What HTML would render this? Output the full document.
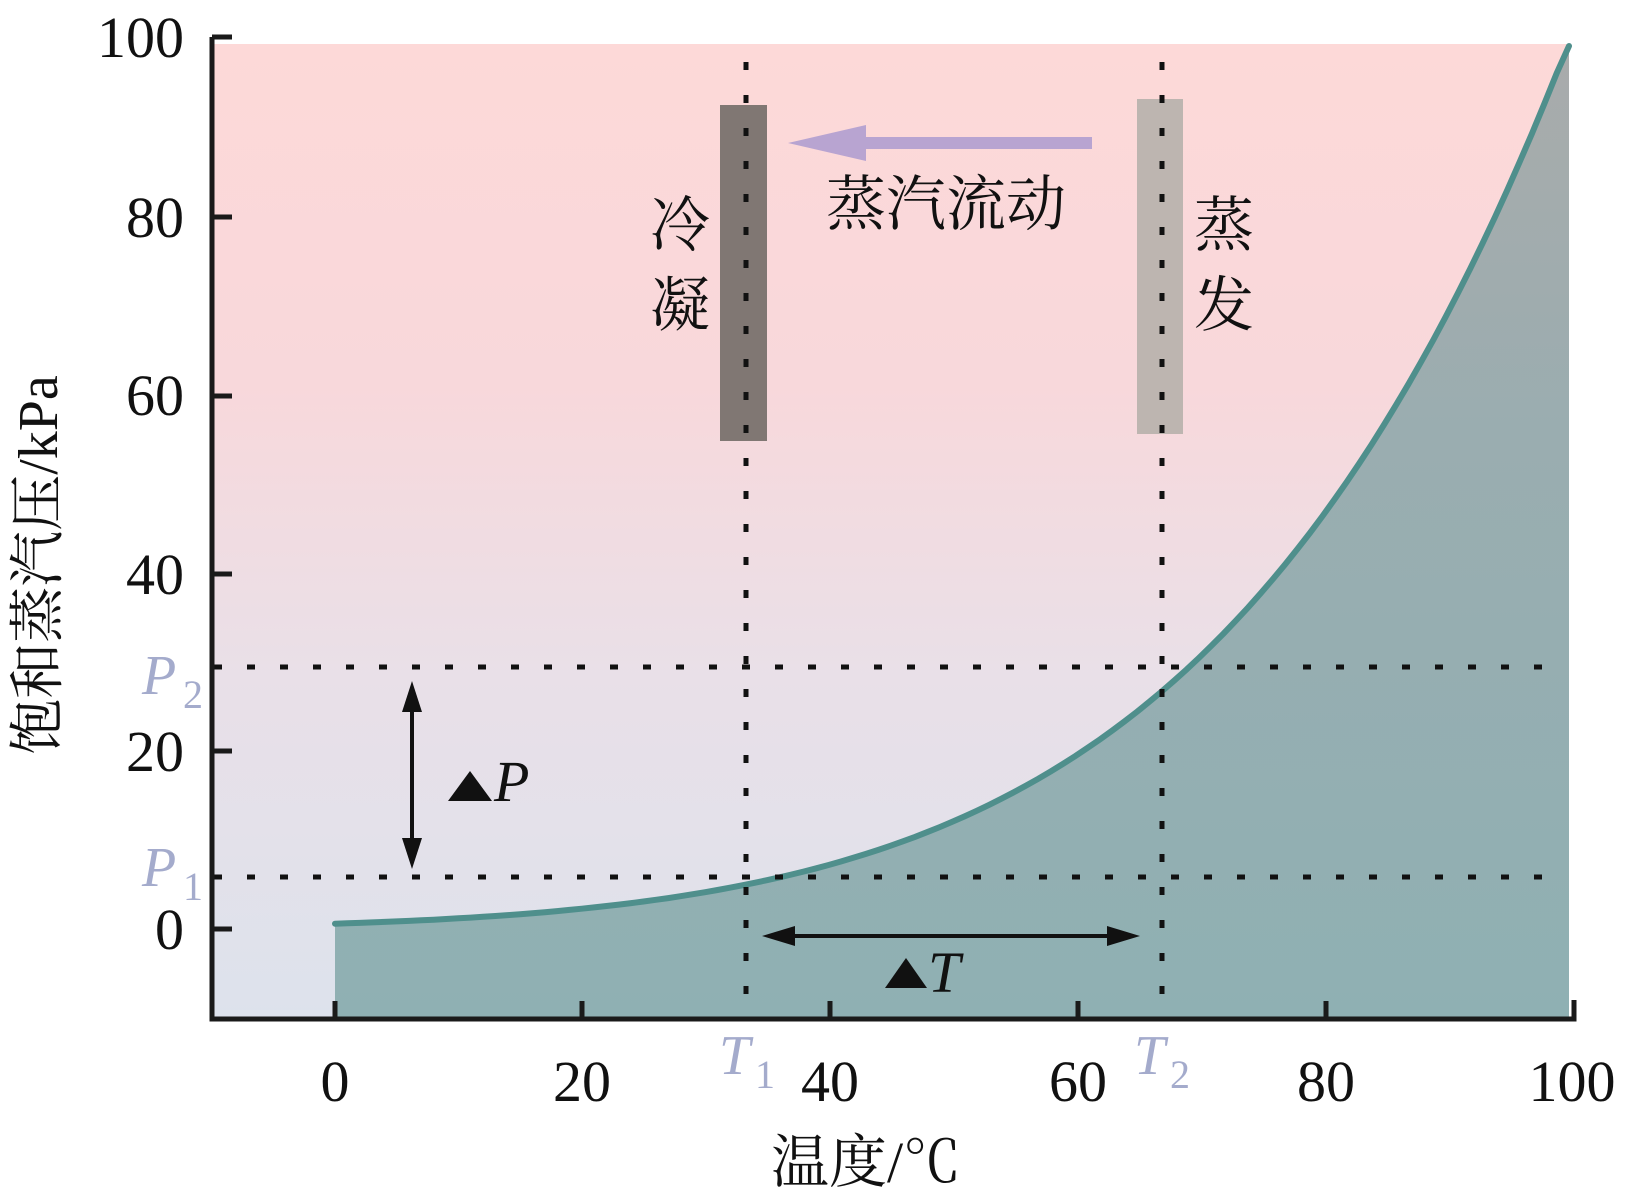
<!DOCTYPE html>
<html><head><meta charset="utf-8"><style>
html,body{margin:0;padding:0;background:#fff;}
svg{display:block;}
.s{font-family:"Liberation Serif","Noto Serif CJK SC",serif;}
</style></head><body>
<svg width="1633" height="1202" viewBox="0 0 1633 1202" xmlns="http://www.w3.org/2000/svg">
<defs>
<linearGradient id="bg" x1="0" y1="0" x2="0" y2="1">
<stop offset="0" stop-color="#fdd9d8"/>
<stop offset="0.35" stop-color="#f8d8db"/>
<stop offset="0.65" stop-color="#e9e0e8"/>
<stop offset="1" stop-color="#dde2ec"/>
</linearGradient>
<linearGradient id="fl" x1="0" y1="0" x2="0" y2="1">
<stop offset="0" stop-color="#a9abab"/>
<stop offset="0.4" stop-color="#9aadb0"/>
<stop offset="1" stop-color="#8fb0b3"/>
</linearGradient>
</defs>
<rect x="212" y="44" width="1357" height="974" fill="url(#bg)"/>
<path id="fill" d="" fill="url(#fl)"/>
<path id="curve" d="" fill="none" stroke="#4f8f8c" stroke-width="6" stroke-linecap="round"/>
<rect x="720" y="105" width="47" height="336" fill="#807773"/>
<rect x="1137" y="99" width="46" height="335" fill="#bdb5b0"/>
<g stroke="#111" stroke-width="5" stroke-dasharray="8 25">
<line x1="746" y1="62" x2="746" y2="1016"/>
<line x1="1162" y1="62" x2="1162" y2="1016"/>
<line x1="214" y1="667" x2="1560" y2="667"/>
<line x1="214" y1="877" x2="1560" y2="877"/>
</g>
<line x1="1092" y1="143" x2="835" y2="143" stroke="#b8a4d1" stroke-width="12"/>
<polygon points="788,143 866,125 866,161" fill="#b8a4d1"/>
<g stroke="#1a1a1a" stroke-width="5" fill="none">
<polyline points="212,37 212,1019 1574,1019 1574,1000"/>
<line x1="212" y1="37" x2="232" y2="37"/>
<line x1="212" y1="217" x2="232" y2="217"/>
<line x1="212" y1="396" x2="232" y2="396"/>
<line x1="212" y1="574" x2="232" y2="574"/>
<line x1="212" y1="751" x2="232" y2="751"/>
<line x1="212" y1="929" x2="232" y2="929"/>
<line x1="335" y1="1019" x2="335" y2="1001"/>
<line x1="582" y1="1019" x2="582" y2="1001"/>
<line x1="830" y1="1019" x2="830" y2="1001"/>
<line x1="1078" y1="1019" x2="1078" y2="1001"/>
<line x1="1326" y1="1019" x2="1326" y2="1001"/>
</g>
<line x1="412" y1="700" x2="412" y2="850" stroke="#111" stroke-width="4"/>
<polygon points="412,681 402,712 422,712" fill="#111"/>
<polygon points="412,869 402,838 422,838" fill="#111"/>
<line x1="780" y1="936" x2="1120" y2="936" stroke="#111" stroke-width="4"/>
<polygon points="762,936 795,926 795,946" fill="#111"/>
<polygon points="1140,936 1107,926 1107,946" fill="#111"/>
<g class="s" fill="#111" font-size="58">
<g text-anchor="end">
<text x="184" y="57">100</text>
<text x="184" y="237">80</text>
<text x="184" y="415">60</text>
<text x="184" y="594">40</text>
<text x="184" y="771">20</text>
<text x="184" y="949">0</text>
</g>
<g text-anchor="middle">
<text x="335" y="1101">0</text>
<text x="582" y="1101">20</text>
<text x="830" y="1101">40</text>
<text x="1078" y="1101">60</text>
<text x="1326" y="1101">80</text>
<text x="1572" y="1101">100</text>
</g>
<polygon points="448,801 470,771 492,801" fill="#111"/>
<text x="494" y="801" font-style="italic">P</text>
<polygon points="885,988 906,958 927,988" fill="#111"/>
<text x="928" y="992" font-style="italic">T</text>
<g fill="#a4abcc">
<text x="142" y="694" font-style="italic" font-size="56">P</text><text x="183" y="708" font-size="40">2</text>
<text x="142" y="886" font-style="italic" font-size="56">P</text><text x="183" y="900" font-size="40">1</text>
<text x="719" y="1074" font-style="italic" font-size="56">T</text><text x="755" y="1088" font-size="40">1</text>
<text x="1134" y="1074" font-style="italic" font-size="56">T</text><text x="1170" y="1088" font-size="40">2</text>
</g>
</g>
<g class="s" fill="#111" font-size="60">
<text x="826" y="225">蒸汽流动</text>
<text x="650" y="246">冷</text>
<text x="650" y="326">凝</text>
<text x="1194" y="246">蒸</text>
<text x="1194" y="326">发</text>
<text x="866" y="1182" text-anchor="middle" font-size="58">温度/℃</text>
<text transform="translate(57,565) rotate(-90)" text-anchor="middle" font-size="56">饱和蒸汽压/kPa</text>
</g>
<script>
var pts=[];for(var t=0;t<=100;t+=1){var p=0.975*0.611*Math.exp(17.27*t/(t+237.3));var x=335+12.34*t;var y=929-8.9*p;if(y<46)y=46;pts.push(x.toFixed(1)+','+y.toFixed(1));}
document.getElementById('curve').setAttribute('d','M'+pts.join(' L'));
document.getElementById('fill').setAttribute('d','M335,1017 L'+pts.join(' L')+' L1569,46 L1569,1017 Z');
</script>
</svg>
</body></html>
